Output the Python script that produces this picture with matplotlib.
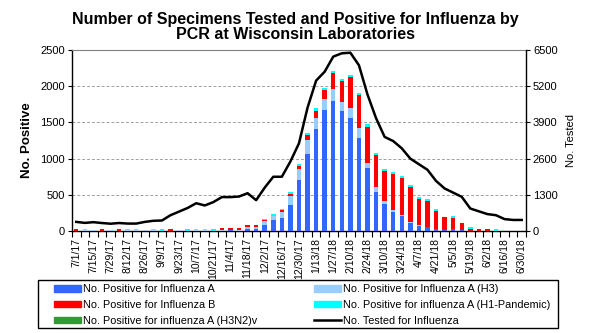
# Grafica de especimenes analizados y positivos para influenza (PCR, Wisconsin)
import numpy as np
import matplotlib.pyplot as plt
import matplotlib.patches as patches
from matplotlib.lines import Line2D
from matplotlib.patches import Patch

plt.rcParams['font.family'] = ['Liberation Sans', 'DejaVu Sans']

# Semanas (categorias del eje x)
semanas = [
    "7/1/17", "7/8/17", "7/15/17", "7/22/17", "7/29/17", "8/5/17", "8/12/17",
    "8/19/17", "8/26/17", "9/2/17", "9/9/17", "9/16/17", "9/23/17", "9/30/17",
    "10/7/17", "10/14/17", "10/21/17", "10/28/17", "11/4/17", "11/11/17",
    "11/18/17", "11/25/17", "12/2/17", "12/9/17", "12/16/17", "12/23/17",
    "12/30/17", "1/6/18", "1/13/18", "1/20/18", "1/27/18", "2/3/18", "2/10/18",
    "2/17/18", "2/24/18", "3/3/18", "3/10/18", "3/17/18", "3/24/18", "3/31/18",
    "4/7/18", "4/14/18", "4/21/18", "4/28/18", "5/5/18", "5/12/18", "5/19/18",
    "5/26/18", "6/2/18", "6/9/18", "6/16/18", "6/23/18", "6/30/18",
]

# Positivos por tipo
flu_a = [0, 0, 0, 0, 0, 0, 0, 0, 0, 0, 0, 0, 0, 0, 0, 0, 0, 5, 14, 0,
         23, 23, 83, 152, 175, 359, 700, 1063, 1408, 1670, 1795, 1661, 1565,
         1289, 875, 543, 373, 258, 207, 115, 74, 51, 25, 14, 28, 10, 0, 0,
         0, 0, 0, 0, 0]
flu_h3 = [0, 28, 14, 0, 14, 0, 28, 28, 14, 28, 0, 0, 14, 0, 30, 28, 0, 10, 0, 14,
          28, 28, 51, 55, 90, 128, 152, 193, 156, 152, 166, 124, 129,
          129, 69, 69, 41, 32, 18, 14, 10, 5, 0, 0, 0, 0, 0, 0,
          0, 0, 0, 0, 0]
flu_b = [28, 0, 0, 28, 0, 28, 0, 0, 0, 0, 0, 28, 0, 0, 0, 0, 0, 28, 28, 28,
         28, 28, 14, 0, 22, 30, 46, 69, 92, 124, 221, 286, 433,
         460, 497, 437, 414, 497, 506, 479, 359, 359, 250, 180, 152, 95, 28, 28,
         28, 0, 0, 0, 0]
flu_h1 = [0, 0, 0, 0, 0, 0, 0, 0, 0, 0, 28, 0, 0, 28, 0, 0, 28, 0, 0, 0,
          0, 0, 18, 28, 23, 21, 23, 23, 37, 23, 28, 28, 32,
          32, 37, 23, 28, 28, 28, 28, 28, 28, 28, 0, 28, 0, 28, 0,
          0, 28, 0, 0, 0]
flu_h3n2v = [0] * 53

# Total de especimenes analizados (eje derecho)
analizados = [330, 295, 320, 290, 265, 290, 270, 270, 330, 370, 380, 570, 700,
              830, 1000, 920, 1040, 1220, 1220, 1240, 1360, 1110, 1560, 1950,
              1950, 2500, 3150, 4430, 5400, 5720, 6260, 6380, 6400, 5950, 4900,
              4050, 3380, 3230, 2970, 2600, 2400, 2200, 1800, 1530, 1380, 1230,
              810, 710, 610, 570, 430, 400, 400]

series = [
    ("No. Positive for Influenza A", flu_a, "#3366FF"),
    ("No. Positive for Influenza A (H3)", flu_h3, "#99CCFF"),
    ("No. Positive for Influenza B", flu_b, "#FF0000"),
    ("No. Positive for influenza A (H1-Pandemic)", flu_h1, "#00FFFF"),
    ("No. Positive for influenza A (H3N2)v", flu_h3n2v, "#339933"),
]

x = np.arange(len(semanas))

fig = plt.figure(figsize=(5.9, 3.33), dpi=100)
ax = fig.add_axes([0.122, 0.306, 0.7695, 0.544])

# Barras apiladas
base = np.zeros(len(semanas))
for nombre, valores, color in series:
    valores = np.array(valores, dtype=float)
    ax.bar(x, valores, bottom=base, width=0.52, color=color, linewidth=0, zorder=3)
    base = base + valores

ax.set_xlim(-0.5, len(semanas) - 0.5)
ax.set_ylim(0, 2500)
ax.set_yticks(np.arange(0, 2501, 500))
ax.tick_params(axis='y', labelsize=8, length=3, direction='out', pad=2)

# Rejilla punteada
for v in [500, 1000, 1500, 2000]:
    ax.axhline(v, color='#A0A0A0', linestyle=(0, (3, 2)), linewidth=0.7, zorder=1)

# Marcas del eje x entre categorias, etiquetas cada 2 semanas
ax.set_xticks(x[::2])
ax.set_xticklabels(semanas[::2], rotation=90, fontsize=7.5)
ax.set_xticks(np.arange(-0.5, len(semanas), 1), minor=True)
ax.tick_params(axis='x', which='major', length=0, pad=5)
ax.tick_params(axis='x', which='minor', length=4, width=0.8)

ax.spines['top'].set_color('#808080')
ax.spines['left'].set_linewidth(1.0)
ax.spines['bottom'].set_linewidth(1.0)
ax.spines['right'].set_visible(False)

ax.set_ylabel("No. Positive", fontsize=9.5, fontweight='bold', labelpad=5)

# Eje derecho con la linea de analizados
ax2 = ax.twinx()
ax2.plot(x, analizados, color='black', linewidth=1.8, zorder=4)
ax2.set_ylim(0, 6500)
ax2.set_yticks(np.arange(0, 6501, 1300))
ax2.tick_params(axis='y', labelsize=8, length=3, pad=2)
ax2.spines['top'].set_visible(False)
ax2.spines['left'].set_visible(False)
ax2.spines['bottom'].set_visible(False)
ax2.spines['right'].set_linewidth(1.0)
ax2.set_ylabel("No. Tested", fontsize=8, labelpad=6)

fig.text(0.5, 0.965, "Number of Specimens Tested and Positive for Influenza by\nPCR at Wisconsin Laboratories",
         fontsize=11.5, fontweight='bold', ha='center', va='top', linespacing=1.05)

# Leyenda: marco comun y dos columnas
marco = patches.Rectangle((38 / 590, 5 / 333), 520 / 590, 48 / 333, transform=fig.transFigure,
                          facecolor='white', edgecolor='black', linewidth=1.0)
fig.patches.append(marco)

handles = [Patch(color=c) for _, _, c in series]
etiquetas = [n for n, _, _ in series]
handles.append(Line2D([0], [0], color='black', linewidth=1.8))
etiquetas.append("No. Tested for Influenza")

columnas = [([0, 2, 4], 54 / 590), ([1, 3, 5], 314 / 590)]
for indices, x0 in columnas:
    leg = fig.legend([handles[i] for i in indices], [etiquetas[i] for i in indices],
                     loc='upper left', bbox_to_anchor=(x0, 0.146), frameon=False,
                     fontsize=7.8, borderpad=0, borderaxespad=0,
                     handlelength=2.5, handleheight=0.5, handletextpad=0.2,
                     labelspacing=0.52)

plt.savefig("out.png", dpi=100)
